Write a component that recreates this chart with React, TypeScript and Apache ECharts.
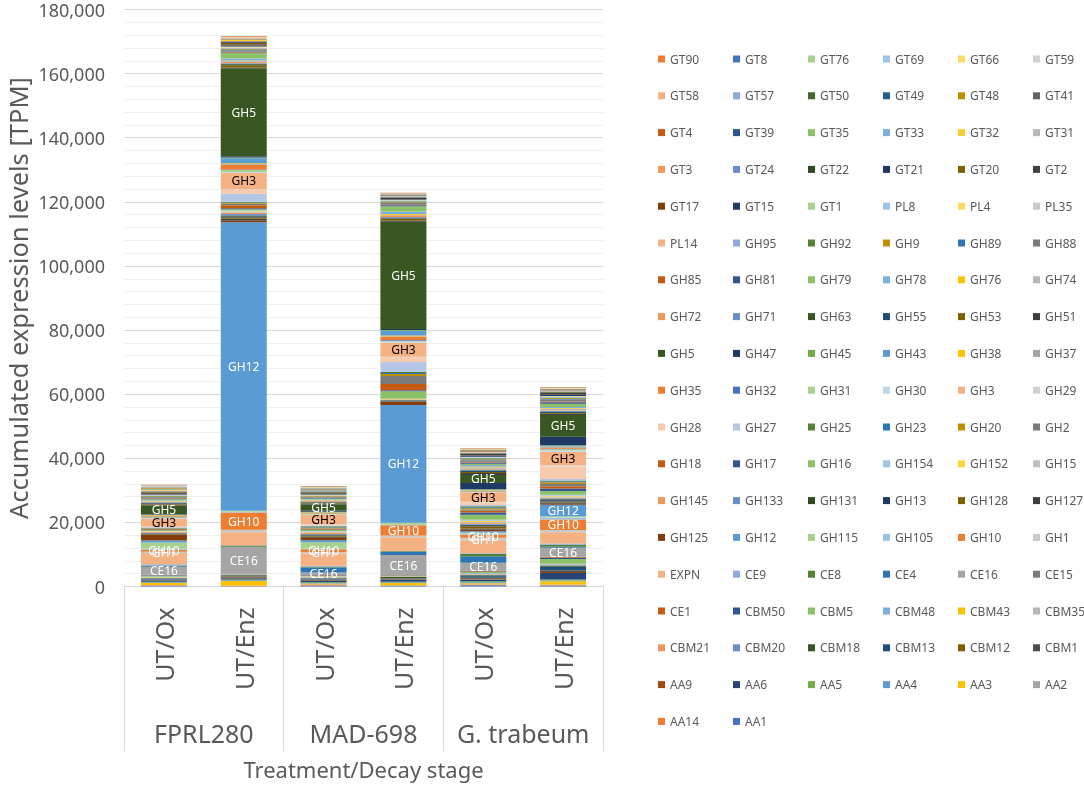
import React, { useEffect, useRef } from "react";
import * as echarts from "echarts";

// Series in stacking order (bottom -> top)
const seriesNames = [
  "AA1", "AA14", "AA2", "AA3", "AA4", "AA5", "AA6", "AA9",
  "CBM1", "CBM12", "CBM13", "CBM18", "CBM20", "CBM21", "CBM35", "CBM43", "CBM48", "CBM5", "CBM50",
  "CE1", "CE15", "CE16", "CE4", "CE8", "CE9", "EXPN",
  "GH1", "GH10", "GH105", "GH115", "GH12",
  "GH125", "GH127", "GH128", "GH13", "GH131", "GH133", "GH145", "GH15", "GH152", "GH154",
  "GH16", "GH17", "GH18", "GH2", "GH20", "GH23", "GH25", "GH27", "GH28", "GH29",
  "GH3", "GH30", "GH31", "GH32", "GH35", "GH37", "GH38", "GH43", "GH45", "GH47", "GH5",
  "GH51", "GH53", "GH55", "GH63", "GH71", "GH72", "GH74", "GH76", "GH78", "GH79", "GH81", "GH85", "GH88", "GH89", "GH9", "GH92", "GH95",
  "PL14", "PL35", "PL4", "PL8",
  "GT1", "GT15", "GT17", "GT2", "GT20", "GT21", "GT22", "GT24", "GT3", "GT31", "GT32", "GT33", "GT35", "GT39",
  "GT4", "GT41", "GT48", "GT49", "GT50", "GT57", "GT58", "GT59", "GT66", "GT69", "GT76", "GT8", "GT90",
];

const seriesColors = [
  "#4472C4", "#ED7D31", "#A5A5A5", "#FFC000", "#5B9BD5", "#70AD47", "#264478", "#9E480E",
  "#4D4D4D", "#7F6000", "#1F4E79", "#375623", "#698ED0", "#F1975A", "#B7B7B7", "#FFC000", "#7CAFDD", "#8CC168", "#2F5597",
  "#C55A11", "#7B7B7B", "#A5A5A5", "#2E75B6", "#548235", "#8FAADC", "#F4B183",
  "#C9C9C9", "#ED7D31", "#9DC3E6", "#A9D18E", "#5B9BD5",
  "#843C0C", "#404040", "#7F6000", "#1F3864", "#2E4A1E", "#698ED0", "#F1975A", "#BFBFBF", "#FFD43B", "#9DC3E6",
  "#8CC168", "#2F5597", "#C55A11", "#7B7B7B", "#BF8F00", "#2E75B6", "#548235", "#B4C7E7", "#F8CBAD", "#D0D0D0",
  "#F4B183", "#BDD7EE", "#A9D18E", "#4472C4", "#ED7D31", "#A5A5A5", "#FFC000", "#5B9BD5", "#70AD47", "#1F3864", "#385723",
  "#404040", "#7F6000", "#1F4E79", "#375623", "#698ED0", "#F1975A", "#B7B7B7", "#FFC000", "#7CAFDD", "#8CC168", "#2F5597", "#C55A11", "#7B7B7B", "#2E75B6", "#BF8F00", "#548235", "#8FAADC",
  "#F4B183", "#C9C9C9", "#FFD966", "#9DC3E6",
  "#A9D18E", "#203864", "#843C0C", "#404040", "#7F6000", "#1F3864", "#2E4A1E", "#698ED0", "#F1975A", "#B7B7B7", "#FFCD33", "#7CAFDD", "#8CC168", "#2F5597",
  "#C55A11", "#636363", "#BF8F00", "#255E91", "#43682B", "#8FAADC", "#F4B183", "#D0D0D0", "#FFD966", "#9DC3E6", "#A9D18E", "#4472C4", "#ED7D31",
];

const subCategories = ["UT/Ox", "UT/Enz", "UT/Ox", "UT/Enz", "UT/Ox", "UT/Enz"];
const groupNames = ["FPRL280", "MAD-698", "G. trabeum"];

// Values (TPM) per bar, in the stacking order of seriesNames
const fprlOx = [
  200, 200, 100, 600, 200, 150, 400, 100,
  150, 100, 200, 200, 100, 100, 100, 100, 150, 100, 150,
  100, 150, 2400, 300, 200, 400, 3500,
  400, 600, 300, 2000, 600,
  1800, 150, 100, 150, 100, 150, 200, 100, 150, 100, 200, 100, 200, 150, 100, 100, 100, 150, 200, 100,
  2500, 150, 200, 100, 200, 100, 200, 150, 100, 200, 2600,
  300, 200, 200, 200, 100, 150, 200, 100, 150, 400, 150, 150, 300, 100, 150, 150, 100,
  50, 50, 50, 50,
  100, 150, 100, 400, 150, 100, 100, 100, 100, 100, 150, 100, 100, 100, 100, 100, 100, 100, 100, 100, 150, 50, 100, 100, 100, 100, 150,
];
const fprlEnz = [
  100, 100, 100, 1500, 200, 200, 400, 200,
  200, 100, 100, 300, 50, 50, 50, 50, 50, 50, 50,
  50, 100, 8300, 100, 400, 100, 4000,
  800, 5400, 200, 300, 90000,
  600, 500, 400, 300, 300, 500, 400, 300, 200, 200, 400, 300, 900, 500, 200, 200, 200, 2500, 1250, 150,
  5200, 200, 600, 200, 1500, 200, 200, 1600, 200, 400, 27500,
  200, 700, 200, 200, 200, 500, 200, 200, 600, 1700, 200, 200, 200, 300, 200, 200, 200,
  100, 100, 100, 100,
  150, 300, 200, 200, 400, 200, 300, 50, 50, 50, 300, 50, 50, 50, 50, 50, 50, 50, 50, 50, 300, 50, 50, 50, 50, 50, 200,
];
const madOx = [
  300, 300, 100, 200, 200, 200, 400, 200,
  200, 100, 200, 200, 200, 100, 100, 100, 100, 100, 100,
  100, 100, 800, 1500, 300, 300, 3800,
  400, 900, 200, 2000, 600,
  800, 300, 300, 200, 200, 200, 300, 200, 200, 200, 300, 200, 200, 200, 200, 200, 200, 200, 300, 100,
  3000, 100, 100, 100, 150, 100, 100, 150, 100, 300, 2000,
  300, 200, 200, 150, 100, 150, 200, 100, 150, 300, 150, 100, 300, 100, 100, 100, 100,
  50, 50, 50, 50,
  100, 150, 100, 400, 100, 100, 100, 50, 50, 50, 100, 50, 50, 100, 100, 150, 100, 50, 50, 100, 150, 50, 100, 50, 50, 150, 150,
];
const madEnz = [
  200, 100, 100, 700, 200, 200, 500, 100,
  200, 100, 200, 400, 100, 50, 50, 50, 50, 50, 100,
  50, 100, 6200, 1000, 200, 100, 4300,
  500, 3200, 200, 600, 36700,
  1000, 200, 100, 100, 100, 100, 100, 100, 100, 100, 2300, 300, 2000, 2500, 600, 300, 300, 3100, 1500, 200,
  4400, 300, 300, 200, 1000, 200, 200, 1500, 200, 300, 33500,
  300, 600, 200, 200, 200, 500, 200, 200, 800, 1600, 300, 200, 500, 200, 200, 200, 100,
  50, 50, 50, 50,
  50, 200, 50, 400, 100, 100, 50, 50, 50, 50, 100, 50, 50, 100, 100, 100, 50, 50, 50, 50, 100, 50, 50, 50, 50, 100, 150,
];
const gtOx = [
  400, 200, 100, 300, 300, 300, 500, 200,
  300, 100, 500, 300, 200, 100, 100, 100, 200, 300, 200,
  100, 200, 2400, 2000, 700, 300, 4000,
  800, 1000, 300, 300, 400,
  600, 300, 700, 300, 200, 300, 300, 200, 400, 300, 1600, 700, 500, 400, 400, 300, 300, 400, 800, 200,
  3000, 100, 100, 100, 100, 100, 100, 200, 100, 2000, 2500,
  600, 300, 400, 200, 200, 200, 500, 200, 500, 400, 400, 200, 500, 200, 200, 200, 200,
  50, 50, 50, 50,
  100, 300, 100, 400, 100, 100, 100, 100, 100, 50, 100, 50, 50, 100, 100, 100, 100, 50, 50, 50, 100, 50, 50, 50, 50, 100, 150,
];
const gtEnz = [
  300, 200, 100, 1000, 300, 300, 2000, 300,
  300, 200, 1200, 300, 100, 100, 100, 100, 200, 1500, 300,
  200, 200, 2800, 300, 600, 400, 3500,
  700, 3300, 600, 400, 3600,
  300, 400, 300, 400, 300, 300, 300, 300, 200, 300, 1200, 800, 700, 700, 500, 300, 300, 400, 4000, 300,
  4200, 400, 400, 200, 300, 200, 200, 300, 100, 2600, 6800,
  400, 200, 300, 200, 200, 200, 500, 200, 300, 1000, 500, 200, 600, 200, 200, 200, 200,
  50, 50, 50, 50,
  100, 400, 100, 500, 100, 100, 100, 100, 100, 50, 100, 50, 50, 100, 100, 100, 100, 50, 50, 50, 100, 50, 50, 50, 50, 100, 150,
];

// Series whose segments carry their name as a label, with the label colour
const labelColors: Record<string, string> = {
  CE16: "#FFFFFF",
  GH1: "#FFFFFF",
  GH10: "#FFFFFF",
  GH12: "#FFFFFF",
  GH3: "#000000",
  GH5: "#FFFFFF",
};
// GH1 labels appear only on the UT/Ox bars, GH12 labels only on the UT/Enz bars
const oxOnlyLabels = ["GH1"];
const enzOnlyLabels = ["GH12"];

const FONT = "Noto Sans";
const AXIS_TEXT = "#595959";

export default function App() {
  const ref = useRef<HTMLDivElement>(null);

  useEffect(() => {
    if (!ref.current) return;
    const chart = echarts.init(ref.current, null, { renderer: "svg" });
    const columns = [fprlOx, fprlEnz, madOx, madEnz, gtOx, gtEnz];

    const series = seriesNames.map((name, i) => {
      const lc = labelColors[name];
      return {
        name,
        type: "bar",
        stack: "total",
        barWidth: 46,
        xAxisIndex: 0,
        yAxisIndex: 0,
        itemStyle: { color: seriesColors[i] },
        emphasis: { disabled: true },
        label: lc
          ? { show: true, position: "inside", formatter: "{a}", color: lc, fontSize: 12, fontFamily: FONT }
          : { show: false },
        data: columns.map((col, c) => {
          if (oxOnlyLabels.includes(name)) return { value: col[i], label: { show: c % 2 === 0 } };
          if (enzOnlyLabels.includes(name)) return { value: col[i], label: { show: c % 2 === 1 } };
          return col[i];
        }),
      };
    });

    const legendOrder = [...seriesNames].reverse();
    const legends = [0, 1, 2, 3, 4, 5].map((c) => ({
      orient: "vertical",
      left: 658 + 75 * c,
      top: 52,
      padding: 0,
      itemWidth: 7,
      itemHeight: 7,
      itemGap: 22.8,
      icon: "rect",
      textStyle: { fontSize: 12, color: AXIS_TEXT, fontFamily: FONT, lineHeight: 14 },
      data: legendOrder.filter((_, k) => k % 6 === c),
    }));

    chart.setOption({
      animation: false,
      textStyle: { fontFamily: FONT },
      grid: { left: 124, top: 9.5, width: 479, height: 577 },
      legend: legends,
      xAxis: [
        {
          type: "category",
          data: subCategories,
          position: "bottom",
          axisLine: { show: true, lineStyle: { color: "#D9D9D9", width: 1 } },
          axisTick: { show: false },
          axisLabel: { interval: 0, rotate: 90, fontSize: 25, color: AXIS_TEXT, margin: 21, fontFamily: FONT },
        },
        {
          type: "category",
          data: groupNames,
          position: "bottom",
          offset: 165,
          axisLine: { show: false },
          axisTick: { show: true, interval: 0, inside: true, length: 165, lineStyle: { color: "#D9D9D9", width: 1 } },
          axisLabel: { interval: 0, inside: true, fontSize: 25, color: AXIS_TEXT, margin: 6, fontFamily: FONT },
          name: "Treatment/Decay stage",
          nameLocation: "middle",
          nameGap: 6,
          nameTextStyle: { fontSize: 22, color: AXIS_TEXT, fontFamily: FONT },
        },
      ],
      yAxis: {
        type: "value",
        min: 0,
        max: 180000,
        interval: 20000,
        axisLine: { show: false },
        axisTick: { show: false },
        axisLabel: {
          fontSize: 18,
          color: AXIS_TEXT,
          margin: 19,
          fontFamily: FONT,
          formatter: (v: number) => v.toLocaleString("en-US"),
        },
        splitLine: { show: true, lineStyle: { color: "#D9D9D9", width: 1 } },
        minorTick: { show: false, splitNumber: 5 },
        minorSplitLine: { show: true, lineStyle: { color: "#F0F0F0", width: 1 } },
        name: "Accumulated expression levels [TPM]",
        nameLocation: "middle",
        nameGap: 93,
        nameTextStyle: { fontSize: 25.5, color: AXIS_TEXT, fontFamily: FONT },
      },
      series,
    } as any);

    return () => {
      chart.dispose();
    };
  }, []);

  return (
    <div
      ref={ref}
      style={{ position: "fixed", left: 0, top: 0, width: 1084, height: 785 }}
    />
  );
}
